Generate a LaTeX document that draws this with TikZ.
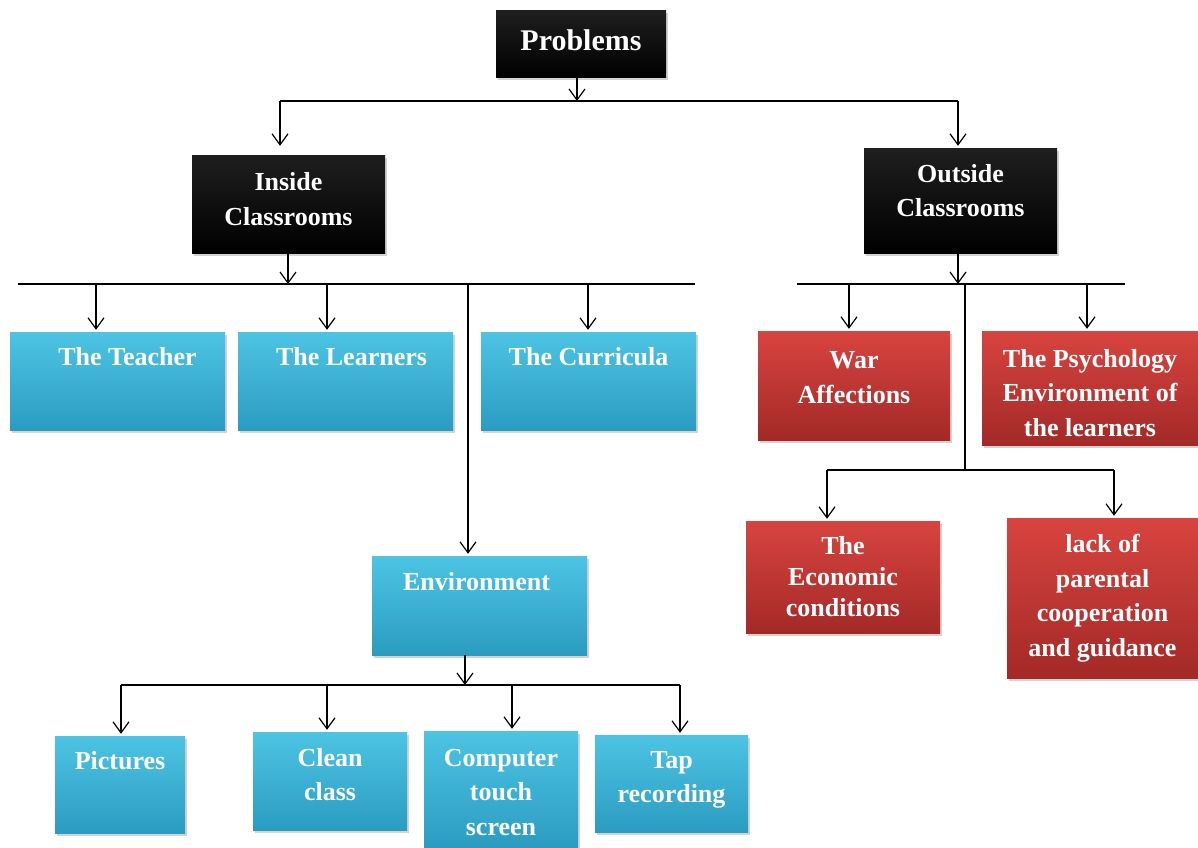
\documentclass[tikz,border=0pt]{standalone}
\usepackage{fontspec}
\setmainfont{Liberation Serif}
\usetikzlibrary{positioning}
\usetikzlibrary{arrows.meta}
\usetikzlibrary{shadows}
\definecolor{bluetop}{HTML}{4DC4E3}
\definecolor{bluebot}{HTML}{2B9CC1}
\definecolor{redtop}{HTML}{D8443F}
\definecolor{redbot}{HTML}{A32927}

\begin{document}
\begin{tikzpicture}
			[
				x = 1pt, y = -1pt,
				mybox/.style = {rectangle, inner sep = 0pt, drop shadow = {opacity = 0.35, shadow xshift = 2pt, shadow yshift = -3pt}},
				myblackbox/.style = {mybox, top color = black!88, bottom color = black},
				mybluebox/.style = {mybox, top color = bluetop, bottom color = bluebot},
				myredbox/.style = {mybox, top color = redtop, bottom color = redbot},
				mytext/.style = {inner sep = 0pt, text = white, align = center, font = \fontsize{26}{34.5}\selectfont\bfseries},
				myline/.style = {line width = 1.2pt},
				myarrow/.style = {line width = 1.2pt, -{Straight Barb[length = 11pt, width = 16pt, line width = 1.2pt]}, shorten > = 2pt}
			]
			\useasboundingbox (0,0) rectangle (1198,847);
			%
			\node (problems) [myblackbox, minimum width = 170pt, minimum height = 67pt] at (581,43.5) {};
			\node (problemstxt) [mytext, font = \fontsize{30}{36}\selectfont\bfseries, yshift = 3pt] at (problems.center) {Problems};
			\node (inside) [myblackbox, minimum width = 193pt, minimum height = 98pt] at (288.5,204) {};
			\node (insidetxt) [mytext, yshift = 5pt] at (inside.center) {Inside\\Classrooms};
			\node (outside) [myblackbox, minimum width = 193pt, minimum height = 105pt] at (960.5,200.5) {};
			\node (outsidetxt) [mytext, yshift = 10pt] at (outside.center) {Outside\\Classrooms};
			%
			\node (teacher) [mybluebox, minimum width = 215pt, minimum height = 98pt] at (117.5,381) {};
			\node (teachertxt) [mytext, below = 15pt of teacher.north, xshift = 10pt] {The Teacher};
			\node (learners) [mybluebox, minimum width = 215pt, minimum height = 98pt] at (345.5,381) {};
			\node (learnerstxt) [mytext, below = 15pt of learners.north, xshift = 6pt] {The Learners};
			\node (curricula) [mybluebox, minimum width = 215pt, minimum height = 98pt] at (588.5,381) {};
			\node (curriculatxt) [mytext, below = 15pt of curricula.north] {The Curricula};
			\node (env) [mybluebox, minimum width = 215pt, minimum height = 99pt] at (479.5,605.5) {};
			\node (envtxt) [mytext, below = 16pt of env.north, xshift = -3pt] {Environment};
			%
			\node (pictures) [mybluebox, minimum width = 130pt, minimum height = 97pt] at (120,784.5) {};
			\node (picturestxt) [mytext, below = 15pt of pictures.north] {Pictures};
			\node (clean) [mybluebox, minimum width = 154pt, minimum height = 98pt] at (330,781) {};
			\node (cleantxt) [mytext, below = 16pt of clean.north] {Clean\\class};
			\node (computer) [mybluebox, minimum width = 154pt, minimum height = 116pt] at (501,789) {};
			\node (computertxt) [mytext, below = 18pt of computer.north] {Computer\\touch\\screen};
			\node (tap) [mybluebox, minimum width = 153pt, minimum height = 97pt] at (671.5,783.5) {};
			\node (taptxt) [mytext, below = 16pt of tap.north] {Tap\\recording};
			%
			\node (war) [myredbox, minimum width = 192pt, minimum height = 109pt] at (854,385.5) {};
			\node (wartxt) [mytext, yshift = 8pt] at (war.center) {War\\Affections};
			\node (psych) [myredbox, minimum width = 216pt, minimum height = 114pt] at (1090,388) {};
			\node (psychtxt) [mytext, yshift = -5pt] at (psych.center) {The Psychology\\Environment of\\the learners};
			\node (econ) [myredbox, minimum width = 194pt, minimum height = 112pt] at (843,577) {};
			\node (econtxt) [mytext, font = \fontsize{26}{31}\selectfont\bfseries] at (econ.center) {The\\Economic\\conditions};
			\node (lack) [myredbox, minimum width = 191pt, minimum height = 160pt] at (1102.5,598) {};
			\node (lacktxt) [mytext] at (lack.center) {lack of\\parental\\cooperation\\and guidance};
			%
			\coordinate (bar1L) at (280,101);
			\coordinate (bar1R) at (958,101);
			\draw [myarrow, shorten > = 0pt] (problems.south -| 577,0) -- (577,101);
			\draw [myline] (bar1L) -- (bar1R);
			\draw [myarrow] (bar1L) -- (bar1L |- outside.north);
			\draw [myarrow] (bar1R) -- (bar1R |- outside.north);
			%
			\coordinate (bar2L) at (18,284);
			\coordinate (bar2R) at (695,284);
			\draw [myarrow, shorten > = 0pt] (inside.south -| 288,0) -- (288,284);
			\draw [myline] (bar2L) -- (bar2R);
			\draw [myarrow] (96,284) -- (96,0 |- teacher.north);
			\draw [myarrow] (327,284) -- (327,0 |- learners.north);
			\draw [myarrow] (588,284) -- (588,0 |- curricula.north);
			\draw [myarrow] (468,284) -- (468,0 |- env.north);
			%
			\coordinate (bar3L) at (797,284);
			\coordinate (bar3R) at (1125,284);
			\draw [myarrow, shorten > = 0pt] (outside.south -| 958,0) -- (958,284);
			\draw [myline] (bar3L) -- (bar3R);
			\draw [myarrow] (849,284) -- (849,0 |- war.north);
			\draw [myarrow] (1087,284) -- (1087,0 |- psych.north);
			%
			\coordinate (bar4L) at (827,470);
			\coordinate (bar4R) at (1114,470);
			\draw [myline] (965,284) -- (965,470);
			\draw [myline] (bar4L) -- (bar4R);
			\draw [myarrow] (bar4L) -- (bar4L |- econ.north);
			\draw [myarrow] (bar4R) -- (bar4R |- lack.north);
			%
			\coordinate (bar5L) at (121,685);
			\coordinate (bar5R) at (680,685);
			\draw [myarrow, shorten > = 0pt] (env.south -| 465,0) -- (465,685);
			\draw [myline] (bar5L) -- (bar5R);
			\draw [myarrow] (bar5L) -- (bar5L |- pictures.north);
			\draw [myarrow] (327,685) -- (327,0 |- clean.north);
			\draw [myarrow] (512,685) -- (512,0 |- computer.north);
			\draw [myarrow] (bar5R) -- (bar5R |- tap.north);
			%
		\end{tikzpicture}
\end{document}
